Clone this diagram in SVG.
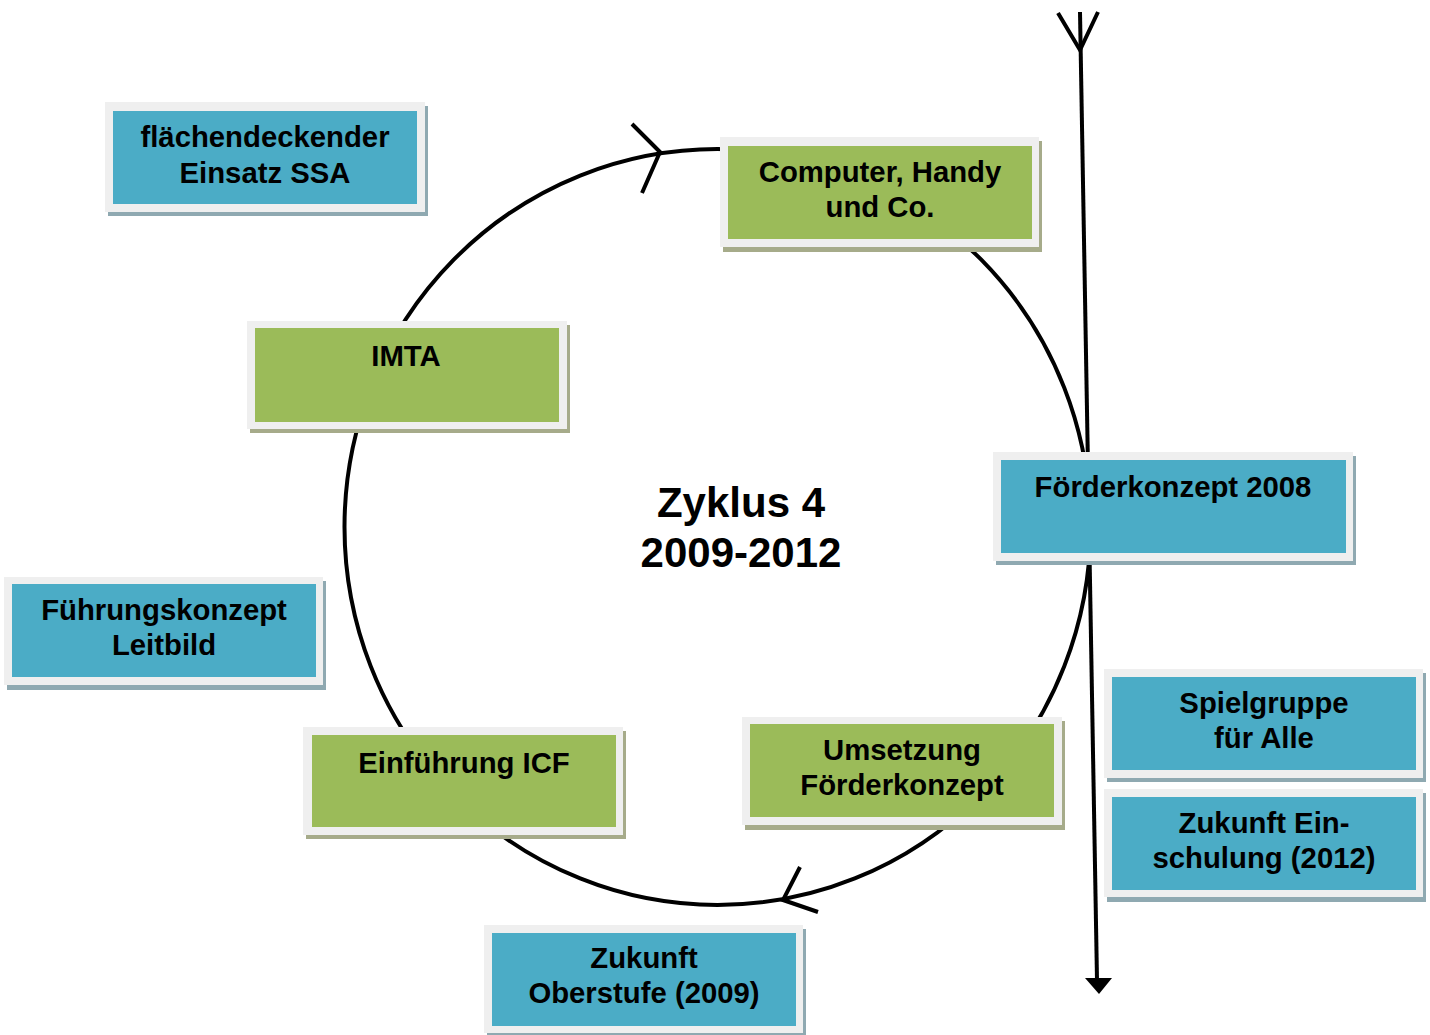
<svg xmlns="http://www.w3.org/2000/svg" width="1430" height="1035" viewBox="0 0 1430 1035">
<style>
.frame{fill:#efefef}
.shb{fill:#8fa9b1}
.shg{fill:#a6ab8a}
.blue{fill:#4bacc6}
.green{fill:#9bbb59}
.lbl{font-family:"Liberation Sans",Arial,sans-serif;font-weight:bold;font-size:29.3px;fill:#000;text-anchor:middle}
.title{font-family:"Liberation Sans",Arial,sans-serif;font-weight:bold;font-size:42px;fill:#000;text-anchor:middle}
.line{fill:none;stroke:#000;stroke-width:4;stroke-linecap:butt}
</style>
<rect width="1430" height="1035" fill="#fff"/>
<g id="connectors">
<ellipse class="line" cx="717.5" cy="527" rx="373" ry="378"/>
<polyline class="line" points="632,124 660,152 642,193"/>
<polyline class="line" points="800,867 783,900 818,912"/>
<line class="line" x1="1080" y1="12" x2="1097" y2="980"/>
<polyline class="line" points="1058,13 1080,50 1098,12"/>
<polygon points="1085,978 1112,978 1099,994" fill="#000"/>
</g>
<g id="flaechendeckender">
<rect class="shb" x="108" y="106" width="320" height="110"/>
<rect class="frame" x="105" y="102" width="320" height="110"/>
<rect class="blue" x="113" y="111" width="304" height="93"/>
<text class="lbl" x="265" y="147">flächendeckender</text>
<text class="lbl" x="265" y="183">Einsatz SSA</text>
</g>
<g id="computer">
<rect class="shg" x="723" y="141" width="319" height="111"/>
<rect class="frame" x="720" y="137" width="319" height="110"/>
<rect class="green" x="728" y="146" width="304" height="93"/>
<text class="lbl" x="880" y="182">Computer, Handy</text>
<text class="lbl" x="880" y="217">und Co.</text>
</g>
<g id="foerderkonzept2008">
<rect class="shb" x="996" y="456" width="360" height="109"/>
<rect class="frame" x="993" y="452" width="360" height="109"/>
<rect class="blue" x="1001" y="460" width="345" height="93"/>
<text class="lbl" x="1173" y="497">Förderkonzept 2008</text>
</g>
<g id="imta">
<rect class="shg" x="250" y="325" width="320" height="108"/>
<rect class="frame" x="247" y="321" width="320" height="108"/>
<rect class="green" x="255" y="328" width="304" height="94"/>
<text class="lbl" x="406" y="366">IMTA</text>
</g>
<g id="fuehrungskonzept">
<rect class="shb" x="7" y="581" width="319" height="109"/>
<rect class="frame" x="4" y="577" width="319" height="108"/>
<rect class="blue" x="12" y="584" width="304" height="93"/>
<text class="lbl" x="164" y="620">Führungskonzept</text>
<text class="lbl" x="164" y="655">Leitbild</text>
</g>
<g id="einfuehrung-icf">
<rect class="shg" x="306" y="731" width="320" height="108"/>
<rect class="frame" x="303" y="727" width="320" height="108"/>
<rect class="green" x="312" y="735" width="304" height="92"/>
<text class="lbl" x="464" y="773">Einführung ICF</text>
</g>
<g id="umsetzung">
<rect class="shg" x="745" y="721" width="320" height="109"/>
<rect class="frame" x="742" y="717" width="320" height="108"/>
<rect class="green" x="750" y="724" width="304" height="93"/>
<text class="lbl" x="902" y="760">Umsetzung</text>
<text class="lbl" x="902" y="795">Förderkonzept</text>
</g>
<g id="oberstufe">
<rect class="shb" x="487" y="929" width="319" height="108"/>
<rect class="frame" x="484" y="925" width="319" height="108"/>
<rect class="blue" x="492" y="933" width="304" height="93"/>
<text class="lbl" x="644" y="968">Zukunft</text>
<text class="lbl" x="644" y="1003">Oberstufe (2009)</text>
</g>
<g id="spielgruppe">
<rect class="shb" x="1107" y="673" width="319" height="109"/>
<rect class="frame" x="1104" y="669" width="319" height="109"/>
<rect class="blue" x="1112" y="677" width="304" height="93"/>
<text class="lbl" x="1264" y="713">Spielgruppe</text>
<text class="lbl" x="1264" y="748">für Alle</text>
</g>
<g id="einschulung">
<rect class="shb" x="1107" y="793" width="319" height="109"/>
<rect class="frame" x="1104" y="789" width="319" height="108"/>
<rect class="blue" x="1112" y="797" width="304" height="93"/>
<text class="lbl" x="1264" y="833">Zukunft Ein-</text>
<text class="lbl" x="1264" y="868">schulung (2012)</text>
</g>
<g id="zyklus">
<text class="title" x="741" y="517">Zyklus 4</text>
<text class="title" x="741" y="567">2009-2012</text>
</g>
</svg>
